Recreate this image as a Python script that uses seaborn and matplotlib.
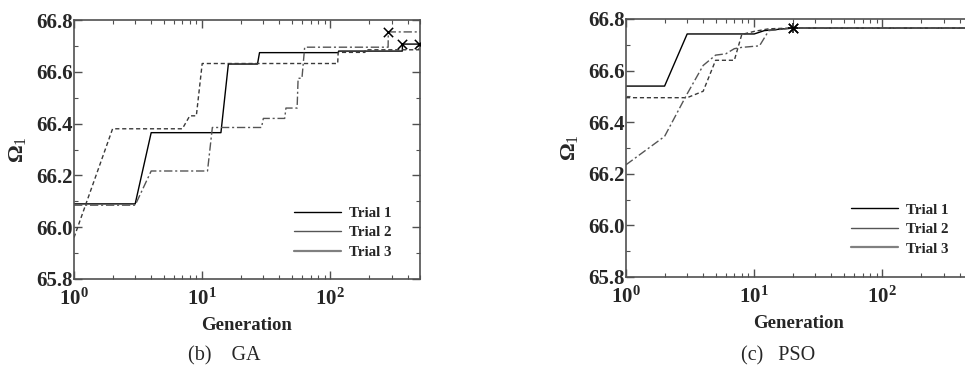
import numpy as np
import pandas as pd
import matplotlib
matplotlib.use("Agg")
import matplotlib.pyplot as plt
from matplotlib.lines import Line2D
from matplotlib.ticker import FixedLocator, MultipleLocator, LogLocator, NullFormatter, FuncFormatter
import seaborn as sns

# ---- convergence histories (best Omega_1 vs. generation) ----
ga_gen_t1 = [1, 3, 4, 14, 16, 27, 28, 115, 116, 364, 365, 500]
ga_val_t1 = [66.09, 66.09, 66.365, 66.365, 66.63, 66.63, 66.674, 66.674, 66.68, 66.68, 66.707, 66.707]
ga_gen_t2 = [1, 2, 7, 8, 9, 10, 114, 115, 186, 187, 489, 490, 500]
ga_val_t2 = [65.96, 66.38, 66.38, 66.43, 66.43, 66.632, 66.632, 66.675, 66.675, 66.685, 66.685, 66.707, 66.707]
ga_gen_t3 = [1, 3, 4, 11, 12, 29, 30, 44, 45, 55, 56, 60, 63, 282, 283, 500]
ga_val_t3 = [66.085, 66.085, 66.217, 66.217, 66.385, 66.385, 66.42, 66.42, 66.46, 66.46,
             66.575, 66.575, 66.695, 66.695, 66.754, 66.754]
ga_best_gen = [365, 490, 283]
ga_best_val = [66.707, 66.707, 66.754]

pso_gen_t1 = [1, 2, 3, 10, 12, 20, 500]
pso_val_t1 = [66.54, 66.54, 66.742, 66.742, 66.755, 66.765, 66.765]
pso_gen_t2 = [1, 3, 4, 5, 7, 8, 10, 13, 20, 500]
pso_val_t2 = [66.495, 66.495, 66.52, 66.64, 66.64, 66.74, 66.752, 66.762, 66.765, 66.765]
pso_gen_t3 = [1, 2, 3, 4, 5, 6, 7, 8, 11, 13, 20, 500]
pso_val_t3 = [66.235, 66.345, 66.51, 66.62, 66.66, 66.665, 66.685, 66.69, 66.696, 66.755, 66.765, 66.765]
pso_best_gen = [20, 20, 20]
pso_best_val = [66.765, 66.765, 66.765]

trial_names = ["Trial 1", "Trial 2", "Trial 3"]
y_ticks = [65.8, 66.0, 66.2, 66.4, 66.6, 66.8]
x_ticks = [1, 10, 100]

sns.set_theme(style="white")
plt.rcParams["font.family"] = ["Liberation Serif", "DejaVu Serif"]
plt.rcParams["mathtext.fontset"] = "custom"
plt.rcParams["mathtext.rm"] = "Liberation Serif"
plt.rcParams["mathtext.bf"] = "Liberation Serif:bold"
plt.rcParams["mathtext.it"] = "Liberation Serif:italic"

line_colors = ["#000000", "#3a3a3a", "#555555"]
line_styles = ["-", (0, (3, 2)), (0, (6, 2, 1.5, 2))]
legend_colors = ["#000000", "#555555", "#808080"]
legend_widths = [1.0, 1.0, 1.6]
spine_color = "#505050"

fig = plt.figure(figsize=(9.65, 3.71), dpi=100)
ax_ga = fig.add_axes([74 / 965, 1 - 279 / 371, 346 / 965, 259 / 371])
ax_pso = fig.add_axes([626 / 965, 1 - 277 / 371, 346 / 965, 258 / 371])


def draw_panel(ax, gens, vals, best_gen, best_val, markers, legend_anchor, right_ticks):
    for g, v, name, c, ls in zip(gens, vals, trial_names, line_colors, line_styles):
        df = pd.DataFrame({"Generation": g, "Omega": v})
        sns.lineplot(data=df, x="Generation", y="Omega", ax=ax, color=c, linestyle=ls,
                     linewidth=1.0, estimator=None, sort=False, legend=False)
    for bg, bv, m in zip(best_gen, best_val, markers):
        sns.scatterplot(x=[bg], y=[bv], ax=ax, marker=m, s=45, color="black",
                        linewidth=1.1, legend=False, zorder=5)

    ax.set_xscale("log")
    ax.set_xlim(1, 500)
    ax.set_ylim(65.8, 66.8)
    ax.xaxis.set_major_locator(FixedLocator(x_ticks))
    ax.xaxis.set_minor_locator(LogLocator(base=10, subs=np.arange(2, 10)))
    ax.xaxis.set_minor_formatter(NullFormatter())
    ax.xaxis.set_major_formatter(FuncFormatter(
        lambda v, p: r"$\mathbf{10^{%d}}$" % int(round(np.log10(v)))))
    ax.yaxis.set_major_locator(FixedLocator(y_ticks))
    ax.yaxis.set_minor_locator(MultipleLocator(0.1))
    ax.yaxis.set_major_formatter(FuncFormatter(lambda v, p: f"{v:.1f}"))
    ax.tick_params(which="both", direction="in", top=True, right=right_ticks,
                   bottom=True, left=True, color=spine_color)
    ax.tick_params(which="major", length=6, width=1.0, labelsize=15)
    ax.tick_params(axis="y", which="major", pad=1)
    ax.tick_params(axis="x", which="major", pad=7)
    ax.tick_params(which="minor", length=3, width=0.8)
    for lab in ax.get_yticklabels():
        lab.set_fontweight("bold")
    for sp in ax.spines.values():
        sp.set_color(spine_color)
        sp.set_linewidth(1.2)
    ax.set_xlabel("Generation", fontsize=13.5, fontweight="bold", labelpad=5)
    ax.set_ylabel(r"$\mathbf{\Omega}_{\mathrm{1}}$", fontsize=16, labelpad=6)

    handles = [Line2D([0], [0], color=c, lw=w) for c, w in zip(legend_colors, legend_widths)]
    ax.legend(handles, trial_names, loc="lower right", bbox_to_anchor=legend_anchor,
              frameon=False, handlelength=3.1, handletextpad=0.55, labelspacing=0.4,
              borderaxespad=0.0, prop={"family": "Liberation Serif", "weight": "bold", "size": 10.8})


draw_panel(ax_ga, [ga_gen_t1, ga_gen_t2, ga_gen_t3], [ga_val_t1, ga_val_t2, ga_val_t3],
           ga_best_gen, ga_best_val, ["x", "x", "x"], (0.935, 0.055), True)
draw_panel(ax_pso, [pso_gen_t1, pso_gen_t2, pso_gen_t3], [pso_val_t1, pso_val_t2, pso_val_t3],
           pso_best_gen, pso_best_val, ["x", "+", "x"], (0.95, 0.06), False)

fig.text(224 / 965, 1 - 356 / 371, "(b)    GA", ha="center", va="center", fontsize=14.5)
fig.text(778 / 965, 1 - 356 / 371, "(c)   PSO", ha="center", va="center", fontsize=14.5)

fig.savefig("out.png", dpi=100)
